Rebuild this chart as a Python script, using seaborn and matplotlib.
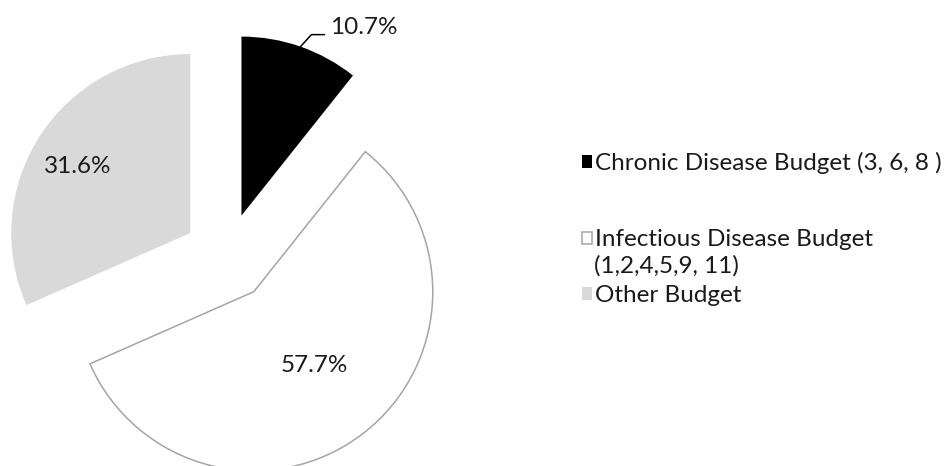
import numpy as np
import matplotlib.pyplot as plt
import seaborn as sns

# budget split (percent)
names = ["Chronic Disease Budget (3, 6, 8 )", "Infectious Disease Budget", "Other Budget"]
names_extra = "(1,2,4,5,9, 11)"
shares = [10.7, 57.7, 31.6]
pct_labels = ["10.7%", "57.7%", "31.6%"]

sns.set_style("white")
plt.rcParams['font.family'] = ['Lato', 'DejaVu Sans']

face = ["#000000", "#ffffff", "#d9d9d9"]
edge = ["#000000", "#a5a5a5", "#d9d9d9"]
lw = [0, 1.1, 0]
FS = 17.5
TXT = "#1a1a1a"

fig = plt.figure(figsize=(9.48, 4.66), dpi=100)
ax = fig.add_axes([0, 0, 1, 1])

wedges, _ = ax.pie(shares, colors=face, explode=[0.245] * 3, startangle=90,
                   counterclock=False, radius=1)
for w, e, l in zip(wedges, edge, lw):
    w.set_edgecolor(e)
    w.set_linewidth(l)

# percent labels: radius from slice apex and small angle nudge (deg)
pct_r = [None, 0.536, 0.73]
pct_da = [0, 1.9, 2.6]
for w, txt, r, da in zip(wedges, pct_labels, pct_r, pct_da):
    m = np.deg2rad((w.theta1 + w.theta2) / 2 + da)
    cx, cy = w.center
    if r is None:
        # small slice: label outside with an elbow leader line
        sx, sy = cx + np.cos(m), cy + np.sin(m)
        ex, ey = sx + 0.061, sy + 0.067
        ax.plot([sx, ex, ex + 0.073], [sy, ey, ey], color="black", lw=1.1,
                solid_joinstyle="miter")
        ax.text(ex + 0.105, ey + 0.042, txt, ha="left", va="center",
                fontsize=FS, color=TXT)
    else:
        ax.text(cx + r * np.cos(m), cy + r * np.sin(m), txt,
                ha="center", va="center", fontsize=FS, color=TXT)

ax.set_xlim(-227 / 179, (948 - 227) / 179)
ax.set_ylim(-209 / 179, 257 / 179)
ax.set_aspect("auto")
ax.axis("off")

# legend, one entry per box so spacing can follow the original
leg_y = [0.650, 0.485, 0.365]
for w, name, y in zip(wedges, names, leg_y):
    lg = fig.legend([w], [name], loc="center left", bbox_to_anchor=(0.614, y),
                    frameon=False, fontsize=FS, handlelength=0.42, handleheight=0.42,
                    handletextpad=0.1, borderpad=0, borderaxespad=0, labelcolor=TXT)
fig.text(0.6262, 0.429, names_extra, ha="left", va="center", fontsize=FS, color=TXT)

fig.savefig("out.png", dpi=100)
